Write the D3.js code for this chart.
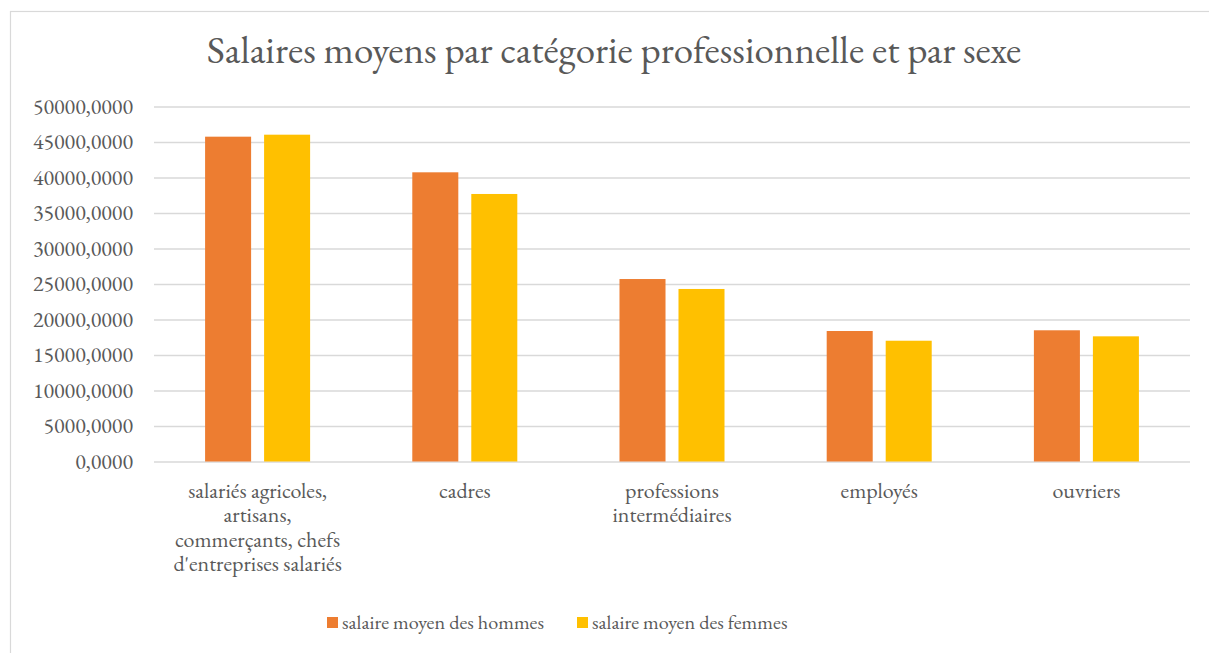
<!DOCTYPE html>
<html lang="fr">
<head>
    <meta charset="utf-8">
    <title>Salaires moyens par catégorie professionnelle et par sexe</title>
    <script src="https://cdn.jsdelivr.net/npm/d3@7/dist/d3.min.js"></script>
</head>
<body style="margin:0; background:#fff">
    <svg></svg>
    <script>
        // data
        var categories = ["salariés agricoles, artisans, commerçants, chefs d'entreprises salariés",
            "cadres", "professions intermédiaires", "employés", "ouvriers"];
        var seriesNames = ["salaire moyen des hommes", "salaire moyen des femmes"];
        var hommes = [45750, 40730, 25700, 18380, 18480];
        var femmes = [46030, 37680, 24300, 17010, 17630];
        var yTicks = [0, 5000, 10000, 15000, 20000, 25000, 30000, 35000, 40000, 45000, 50000];
        var colors = ["#ed7d31", "#ffc000"];

        var FONT = "'EB Garamond', 'Liberation Serif', serif";
        var W = 1209, H = 653;
        var margin = {top: 106.5, right: 19, bottom: 191.5, left: 154},
            width = W - margin.left - margin.right,
            height = H - margin.top - margin.bottom;

        var svg0 = d3.select("svg").attr("width", W).attr("height", H);

        // style helper for all texts
        function txt(sel, size) {
            return sel.style("font-family", FONT)
                .style("font-size", size + "px")
                .style("font-variant-numeric", "lining-nums")
                .attr("fill", "#595959");
        }

        // chart border
        svg0.append("rect")
            .attr("x", 10.5).attr("y", 11.5)
            .attr("width", W + 20).attr("height", H + 20)
            .attr("fill", "none").attr("stroke", "#d9d9d9").attr("stroke-width", 1.2);

        txt(svg0.append("text"), 39)
            .attr("x", 614).attr("y", 63)
            .attr("text-anchor", "middle")
            .text("Salaires moyens par catégorie professionnelle et par sexe");

        var svg = svg0.append("g")
            .attr("transform", "translate(" + margin.left + "," + margin.top + ")");

        var x0 = d3.scaleBand().domain(d3.range(categories.length)).range([0, width]).padding(0);
        var x1 = d3.scaleBand().domain([0, 1]).range([0, x0.bandwidth()])
            .paddingInner(0.22).paddingOuter(0.866);
        var y = d3.scaleLinear().domain([0, 50000]).range([height, 0]);

        // gridlines
        var grid = svg.append("g")
            .call(d3.axisLeft(y).tickValues(yTicks).tickSize(-width).tickFormat(""));
        grid.select(".domain").remove();
        grid.selectAll("line").attr("stroke", "#d9d9d9").attr("stroke-width", 1.3);

        // y labels
        txt(svg.selectAll(".ylab")
            .data(yTicks)
            .enter().append("text"), 22)
            .attr("class", "ylab")
            .attr("x", -21)
            .attr("y", function(d) { return y(d); })
            .attr("dy", "0.33em")
            .attr("text-anchor", "end")
            .text(function(d) { return d3.format("d")(d) + ",0000"; });

        // bars
        var groups = svg.selectAll(".cat")
            .data(categories)
            .enter().append("g")
            .attr("class", "cat")
            .attr("transform", function(d, i) { return "translate(" + x0(i) + ",0)"; });

        groups.selectAll("rect")
            .data(function(d, i) { return [hommes[i], femmes[i]]; })
            .enter().append("rect")
            .attr("x", function(d, j) { return x1(j); })
            .attr("width", x1.bandwidth())
            .attr("y", function(d) { return y(d); })
            .attr("height", function(d) { return height - y(d); })
            .attr("fill", function(d, j) { return colors[j]; });

        // category labels, wrapped
        var labels = txt(svg.selectAll(".xlab")
            .data(categories)
            .enter().append("text"), 22)
            .attr("class", "xlab")
            .attr("text-anchor", "middle")
            .attr("transform", function(d, i) { return "translate(" + (x0(i) + x0.bandwidth() / 2) + "," + (height + 36) + ")"; });

        labels.each(function(d) {
            var text = d3.select(this),
                words = d.split(/\s+/).reverse(),
                word, line = [], n = 0,
                tspan = text.append("tspan").attr("x", 0).attr("y", 0);
            while (word = words.pop()) {
                line.push(word);
                tspan.text(line.join(" "));
                if (tspan.node().getComputedTextLength() > 178 && line.length > 1) {
                    line.pop();
                    tspan.text(line.join(" "));
                    line = [word];
                    tspan = text.append("tspan").attr("x", 0).attr("y", ++n * 24.5).text(word);
                }
            }
        });

        // legend
        var legendX = [327, 577];
        var legend = svg0.selectAll(".leg")
            .data(seriesNames)
            .enter().append("g")
            .attr("class", "leg")
            .attr("transform", function(d, i) { return "translate(" + legendX[i] + ",617)"; });
        legend.append("rect")
            .attr("width", 11).attr("height", 11)
            .attr("fill", function(d, i) { return colors[i]; });
        txt(legend.append("text"), 20.2)
            .attr("x", 15).attr("y", 12)
            .text(function(d) { return d; });
    </script>
</body>
</html>
